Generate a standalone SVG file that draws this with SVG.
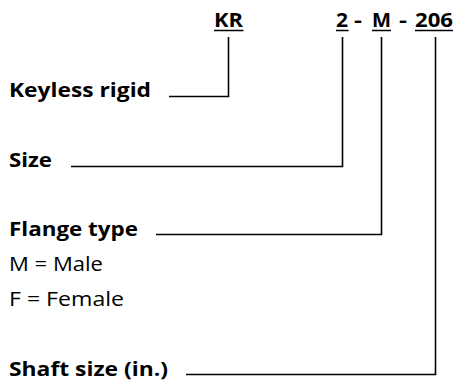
<svg xmlns="http://www.w3.org/2000/svg" width="458" height="383" viewBox="0 0 458 383">
<style>
.b{font-family:"Open Sans","Liberation Sans",sans-serif;font-weight:bold;fill:#000;font-size:20px}
.r{font-family:"Open Sans","Liberation Sans",sans-serif;font-weight:normal;fill:#000;font-size:20px}
.ln{stroke:#000;stroke-width:1.6;fill:none}
</style>
<rect width="458" height="383" fill="#fff"/>
<g id="code">
<text class="b" x="214" y="27" textLength="29" lengthAdjust="spacingAndGlyphs">KR</text>
<text class="b" x="336" y="27" textLength="12" lengthAdjust="spacingAndGlyphs">2</text>
<text class="b" x="354" y="27" textLength="8" lengthAdjust="spacingAndGlyphs">-</text>
<text class="b" x="372" y="27" textLength="19" lengthAdjust="spacingAndGlyphs">M</text>
<text class="b" x="399" y="27" textLength="8" lengthAdjust="spacingAndGlyphs">-</text>
<text class="b" x="415" y="27" textLength="38" lengthAdjust="spacingAndGlyphs">206</text>
<path class="ln" d="M214 30.5H243.5M336 30.5H348.5M372 30.5H391M415 30.5H453"/>
</g>
<g id="keyless"><text class="b" x="9" y="97" textLength="142" lengthAdjust="spacingAndGlyphs">Keyless rigid</text></g>
<g id="size"><text class="b" x="9" y="167" textLength="43" lengthAdjust="spacingAndGlyphs">Size</text></g>
<g id="flange"><text class="b" x="9" y="236" textLength="129" lengthAdjust="spacingAndGlyphs">Flange type</text>
<text class="r" x="9" y="271" textLength="94" lengthAdjust="spacingAndGlyphs">M = Male</text>
<text class="r" x="9" y="306" textLength="115" lengthAdjust="spacingAndGlyphs">F = Female</text></g>
<g id="shaft"><text class="b" x="9" y="376" textLength="159" lengthAdjust="spacingAndGlyphs">Shaft size (in.)</text></g>
<g id="connectors" class="ln">
<path d="M228.5 37V96.5H169"/>
<path d="M342.5 37V166.5H71"/>
<path d="M381.5 37V234.5H156"/>
<path d="M435.5 37V374.5H186"/>
</g>
</svg>
